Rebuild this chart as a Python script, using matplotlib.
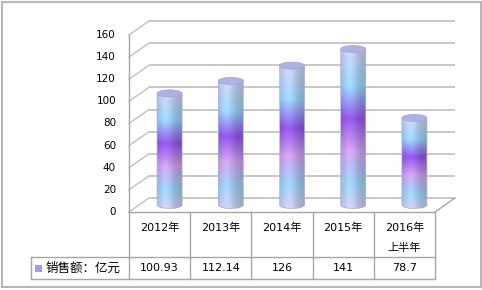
import numpy as np
import matplotlib
matplotlib.use("Agg")
import matplotlib.pyplot as plt
from matplotlib.path import Path
from matplotlib.patches import Ellipse, PathPatch, Rectangle
from matplotlib.colors import LinearSegmentedColormap

plt.rcParams['font.family'] = ['DejaVu Sans', 'Noto Sans CJK SC']

categories = ["2012年", "2013年", "2014年", "2015年", "2016年\n上半年"]
values = [100.93, 112.14, 126, 141, 78.7]
value_labels = ["100.93", "112.14", "126", "141", "78.7"]
series_name = "销售额：亿元"
yticks = [0, 20, 40, 60, 80, 100, 120, 140, 160]

W, H = 482, 290
fig = plt.figure(figsize=(W / 100, H / 100), dpi=100)
fig.patch.set_facecolor("white")

# front plane of the 3d chart, in pixels
left, right, y0px, y160px = 129, 435, 212, 35
ax = fig.add_axes([left / W, (H - y0px) / H, (right - left) / W, (y0px - y160px) / H])
ax.set_xlim(-0.5, 4.5)
ax.set_ylim(0, 160)
ax.axis("off")

ppx = 5 / (right - left)          # data units per pixel, x
ppy = 160 / (y0px - y160px)       # data units per pixel, y
dx, dy = 20 * ppx, 14 * ppy       # depth offset

grid_c = "#c4c4c4"
line_c = "#a6a6a6"

# back wall / side wall grid
for v in yticks:
    ax.plot([-0.5 + dx, 4.5 + dx], [v + dy, v + dy], color=grid_c, lw=1.3,
            clip_on=False, solid_capstyle="butt")
    ax.plot([-0.5, -0.5 + dx], [v, v + dy], color=grid_c, lw=1.1, clip_on=False)
    ax.text(-0.5 - 13 * ppx, v, str(v), ha="right", va="center", fontsize=7.5)
ax.plot([-0.5, -0.5], [0, 160], color=line_c, lw=1.0, clip_on=False)
# floor
ax.plot([4.5, 4.5 + dx], [0, dy], color=line_c, lw=1.0, clip_on=False)

# cylinder gradient
stops = [(0.0, "#d0d2f8"), (0.16, "#a0d4f8"), (0.36, "#d4a6f4"),
         (0.56, "#9658ec"), (0.76, "#9cd8fc"), (1.0, "#d2d4f8")]
cmap = LinearSegmentedColormap.from_list("cyl", stops)
ny, nx = 200, 60
vert = cmap(np.linspace(0, 1, ny))[:, :3]
u = np.linspace(0, 1, nx)
shade = 0.86 + 0.18 * np.exp(-((u - 0.36) / 0.3) ** 2) - 0.06 * u
img = np.clip(vert[:, None, :] * shade[None, :, None], 0, 1)

bw = 25 * ppx
eh = 7 * ppy
base = dy / 2
theta = np.linspace(np.pi, 2 * np.pi, 40)
for i, v in enumerate(values):
    cx = i + dx / 2
    top = v + dy / 2
    bx = cx + bw / 2 * np.cos(theta)
    by = base + eh / 2 * np.sin(theta)
    verts = ([(cx - bw / 2, top)] + list(zip(bx, by)) + [(cx + bw / 2, top), (cx - bw / 2, top)])
    clip = PathPatch(Path(verts), facecolor="none", edgecolor="#a4a8d8", lw=0.5, zorder=3)
    ax.add_patch(clip)
    im = ax.imshow(img, extent=[cx - bw / 2, cx + bw / 2, base - eh / 2, top],
                   origin="lower", aspect="auto", zorder=2, interpolation="bilinear")
    im.set_clip_path(clip)
    ax.add_patch(Ellipse((cx, top), bw, eh, facecolor="#aeb2e2",
                         edgecolor="#a0a4d6", lw=0.5, zorder=4))

ax.set_xlim(-0.5, 4.5)
ax.set_ylim(0, 160)

# data table below the chart
r1 = -45 * ppy
r2 = -67 * ppy
lx = -0.5 - 98 * ppx
ax.plot([-0.5, 4.5], [0, 0], color=line_c, lw=1.0, clip_on=False)
for b in np.arange(-0.5, 5.0, 1.0):
    ax.plot([b, b], [0, r2], color=line_c, lw=1.0, clip_on=False)
ax.plot([lx, 4.5], [r1, r1], color=line_c, lw=1.0, clip_on=False)
ax.plot([lx, 4.5], [r2, r2], color=line_c, lw=1.0, clip_on=False)
ax.plot([lx, lx], [r1, r2], color=line_c, lw=1.0, clip_on=False)

for i, (c, t) in enumerate(zip(categories, value_labels)):
    ax.text(i, -11 * ppy, c, ha="center", va="top", fontsize=8, linespacing=2.1)
    ax.text(i, (r1 + r2) / 2, t, ha="center", va="center", fontsize=8)

ax.add_patch(Rectangle((lx + 4 * ppx, (r1 + r2) / 2 - 3.5 * ppy), 7 * ppx, 7 * ppy,
                       facecolor="#a49cf0", edgecolor="none", clip_on=False))
ax.text(lx + 15 * ppx, (r1 + r2) / 2, series_name, ha="left", va="center", fontsize=9)

# outer chart border
fig.add_artist(Rectangle((1.5 / W, 3 / H), (W - 3) / W, (H - 4.5) / H,
                         transform=fig.transFigure, facecolor="none",
                         edgecolor="#b8b8b8", lw=1.5))

fig.savefig("out.png", dpi=100)
